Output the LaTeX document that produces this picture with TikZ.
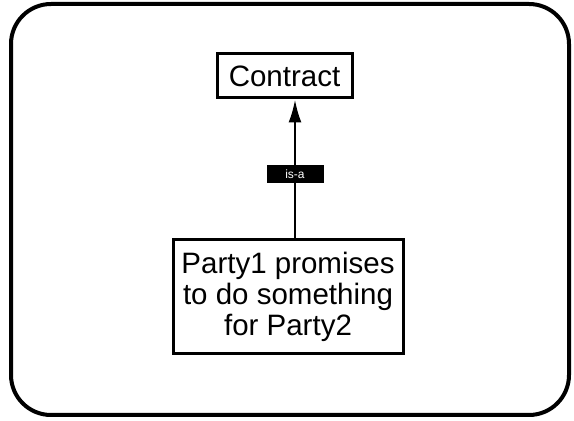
\documentclass[tikz,border=0pt]{standalone}
\usepackage{fontspec}
\setmainfont{Liberation Sans}
\usetikzlibrary{arrows.meta}
\begin{document}
\begin{tikzpicture}[x=1pt,y=1pt,
    concept/.style={draw,line width=3pt,inner sep=0pt,align=center,
      font=\fontsize{29.5}{31}\selectfont},
    relation/.style={fill=black,text=white,inner sep=0pt,
      minimum width=57pt,minimum height=18pt,font=\fontsize{12}{12}\selectfont}]
    \useasboundingbox (0,0) rectangle (574,421);
    % frame
    \draw[line width=4pt,rounded corners=40pt] (11,6) rectangle (569,417);
    % concepts
    \node[concept,minimum width=135pt,minimum height=44pt] (contract) at (284.5,345) {Contract};
    \node[concept,minimum width=230pt,minimum height=114pt] (promise) at (288,124)
        {Party1 promises\\to do something\\for Party2};
    % link
    \draw[line width=2.4pt,-{Latex[length=23pt,width=13pt]}] ([xshift=7pt]promise.north)
        -- node[relation,pos=0.465] (isa) {is-a} ([xshift=7pt]promise.north |- contract.south);
\end{tikzpicture}
\end{document}
